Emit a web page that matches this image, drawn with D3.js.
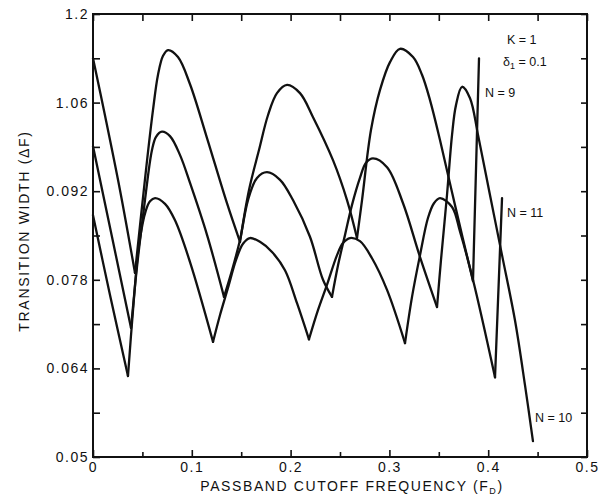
<!DOCTYPE html>
<html>
<head>
<meta charset="utf-8">
<script src="https://cdn.jsdelivr.net/npm/d3@7"></script>
<style>
body { margin: 0; background: #fff; }
text { font-family: "Liberation Sans", Arial, sans-serif; fill: #111; }
</style>
</head>
<body>
<svg id="chart" width="611" height="504"></svg>
<script>
// axis ticks
let xTicks = [0, 0.05, 0.1, 0.15, 0.2, 0.25, 0.3, 0.35, 0.4, 0.45, 0.5];
let xTickLabels = ["0", "0.1", "0.2", "0.3", "0.4", "0.5"];
let yTicks = [0.05, 0.057, 0.064, 0.071, 0.078, 0.085, 0.092, 0.099, 0.106, 0.113, 0.12];
let yTickLabels = ["0.05", "0.064", "0.078", "0.092", "1.06", "1.2"];

// curves: [passband cutoff, transition width]
let n9 = [
  [0, 0.1130], [0.0121, 0.1040], [0.0273, 0.0922], [0.0425, 0.0791],
  [0.0536, 0.0953], [0.0607, 0.1048], [0.0658, 0.1104], [0.0709, 0.1134], [0.0759, 0.1143],
  [0.0860, 0.1132], [0.0982, 0.1089], [0.1154, 0.1004], [0.1356, 0.0901], [0.1488, 0.0840],
  [0.1579, 0.0922], [0.1680, 0.0985], [0.1771, 0.1040], [0.1862, 0.1075], [0.1964, 0.1088],
  [0.2095, 0.1075], [0.2227, 0.1037], [0.2429, 0.0969], [0.2571, 0.0906], [0.2672, 0.0846],
  [0.2723, 0.0906], [0.2814, 0.1017], [0.2905, 0.1080], [0.3006, 0.1124], [0.3107, 0.1145],
  [0.3239, 0.1132], [0.3330, 0.1104], [0.3411, 0.1064], [0.3512, 0.1001], [0.3664, 0.0898],
  [0.3846, 0.0778], [0.3907, 0.1130]
];
let n10 = [
  [0, 0.0991], [0.0192, 0.0848], [0.0385, 0.0704],
  [0.0445, 0.0800], [0.0526, 0.0906], [0.0597, 0.0985], [0.0638, 0.1006], [0.0698, 0.1014],
  [0.0779, 0.1007], [0.0881, 0.0977], [0.0982, 0.0933], [0.1154, 0.0851], [0.1326, 0.0753],
  [0.1407, 0.0795], [0.1488, 0.0843], [0.1569, 0.0906], [0.1660, 0.0941], [0.1761, 0.0950],
  [0.1893, 0.0938], [0.2024, 0.0906], [0.2196, 0.0848], [0.2328, 0.0780], [0.2419, 0.0753],
  [0.2480, 0.0803], [0.2551, 0.0851], [0.2621, 0.0898], [0.2702, 0.0941], [0.2763, 0.0965], [0.2834, 0.0972],
  [0.2976, 0.0958], [0.3138, 0.0901], [0.3310, 0.0816], [0.3482, 0.0737],
  [0.3522, 0.0811], [0.3583, 0.0914], [0.3634, 0.1009], [0.3674, 0.1056], [0.3735, 0.1085],
  [0.3816, 0.1067], [0.3897, 0.1009], [0.4018, 0.0914], [0.4140, 0.0819], [0.4271, 0.0716],
  [0.4372, 0.0614], [0.4453, 0.0525]
];
let n11 = [
  [0, 0.0882], [0.0172, 0.0756], [0.0354, 0.0628],
  [0.0405, 0.0732], [0.0466, 0.0835], [0.0536, 0.0890], [0.0577, 0.0904], [0.0628, 0.0909],
  [0.0729, 0.0900], [0.0830, 0.0874], [0.0982, 0.0808], [0.1215, 0.0682],
  [0.1285, 0.0724], [0.1366, 0.0767], [0.1447, 0.0811], [0.1518, 0.0837], [0.1589, 0.0846],
  [0.1690, 0.0840], [0.1812, 0.0824], [0.1943, 0.0795], [0.2065, 0.0743], [0.2186, 0.0686],
  [0.2277, 0.0732], [0.2368, 0.0772], [0.2470, 0.0819], [0.2530, 0.0838], [0.2601, 0.0846],
  [0.2702, 0.0841], [0.2824, 0.0814], [0.2976, 0.0764], [0.3158, 0.0680],
  [0.3229, 0.0753], [0.3310, 0.0819], [0.3391, 0.0878], [0.3451, 0.0901], [0.3512, 0.0909],
  [0.3634, 0.0895], [0.3715, 0.0856], [0.3846, 0.0780], [0.4069, 0.0626],
  [0.4140, 0.0909]
];
let series = [n9, n10, n11];

let svg = d3.select("#chart");
let plotLeft = 93, plotRight = 587, plotTop = 14, plotBottom = 457;

let x = d3.scaleLinear().domain([0, 0.5]).range([plotLeft, plotRight]);
let y = d3.scaleLinear().domain([0.05, 0.12]).range([plotBottom, plotTop]);

// frame
svg.append("rect")
  .attr("x", plotLeft).attr("y", plotTop)
  .attr("width", plotRight - plotLeft).attr("height", plotBottom - plotTop)
  .attr("fill", "none").attr("stroke", "#111").attr("stroke-width", 2);

// axes, ticks point inward
let gl = svg.append("g").attr("transform", `translate(${plotLeft},0)`)
  .call(d3.axisLeft(y).tickValues(yTicks).tickSizeInner(-7).tickSizeOuter(0).tickPadding(4)
    .tickFormat((d, i) => i % 2 == 0 ? yTickLabels[i / 2] : ""));
let gr = svg.append("g").attr("transform", `translate(${plotRight},0)`)
  .call(d3.axisRight(y).tickValues(yTicks).tickSizeInner(-6).tickSizeOuter(0).tickFormat(""));
let gt = svg.append("g").attr("transform", `translate(0,${plotTop})`)
  .call(d3.axisTop(x).tickValues(xTicks).tickSizeInner(-7).tickSizeOuter(0).tickFormat(""));
let gb = svg.append("g").attr("transform", `translate(0,${plotBottom})`)
  .call(d3.axisBottom(x).tickValues(xTicks).tickSizeInner(-7).tickSizeOuter(0).tickPadding(5)
    .tickFormat((d, i) => i % 2 == 0 ? xTickLabels[i / 2] : ""));

for (let g of [gl, gr, gt, gb]) {
  g.select(".domain").remove();
  g.selectAll(".tick line").attr("stroke", "#111").attr("stroke-width", 1.6);
  g.selectAll("text")
    .attr("font-family", "'Liberation Sans', Arial, sans-serif")
    .attr("font-size", 14)
    .attr("letter-spacing", 1.5)
    .attr("fill", "#111");
}
gb.selectAll(".tick").filter((d, i) => i % 2 == 1).select("line").attr("y2", -5);

// split each curve at its cusps (local minima) so those stay sharp
function splitAtCusps(pts) {
  let segs = [], cur = [pts[0]];
  for (let i = 1; i < pts.length; i++) {
    cur.push(pts[i]);
    if (i < pts.length - 1 && pts[i][1] < pts[i - 1][1] && pts[i][1] < pts[i + 1][1]) {
      segs.push(cur);
      cur = [pts[i]];
    }
  }
  segs.push(cur);
  return segs;
}

let line = d3.line()
  .x(d => x(d[0]))
  .y(d => y(d[1]))
  .curve(d3.curveCatmullRom.alpha(0.5));

for (let s of series) {
  svg.append("g").selectAll("path")
    .data(splitAtCusps(s)).enter()
    .append("path")
    .attr("d", line)
    .attr("fill", "none")
    .attr("stroke", "#111")
    .attr("stroke-width", 2.3)
    .attr("stroke-linejoin", "round")
    .attr("stroke-linecap", "round");
}

// annotations
let ann = svg.append("g").attr("font-size", 12.5);
ann.append("text").attr("x", 507).attr("y", 44).text("K = 1");
let dl = ann.append("text").attr("x", 503).attr("y", 66);
dl.append("tspan").text("δ");
dl.append("tspan").attr("font-size", 9).attr("dy", 3).text("1");
dl.append("tspan").attr("dy", -3).text(" = 0.1");
ann.append("text").attr("x", 485).attr("y", 97).text("N = 9");
ann.append("text").attr("x", 507).attr("y", 217).text("N = 11");
ann.append("text").attr("x", 535).attr("y", 422).text("N = 10");

// axis titles
let xt = svg.append("text")
  .attr("x", 352).attr("y", 491)
  .attr("text-anchor", "middle")
  .attr("font-size", 14)
  .attr("letter-spacing", 1.6);
xt.append("tspan").text("PASSBAND CUTOFF FREQUENCY (F");
xt.append("tspan").attr("font-size", 9).attr("dy", 3).text("D");
xt.append("tspan").attr("dy", -3).text(")");

svg.append("text")
  .attr("transform", "translate(29,231) rotate(-90)")
  .attr("text-anchor", "middle")
  .attr("font-size", 14)
  .attr("letter-spacing", 1.7)
  .text("TRANSITION WIDTH (ΔF)");
</script>
</body>
</html>
